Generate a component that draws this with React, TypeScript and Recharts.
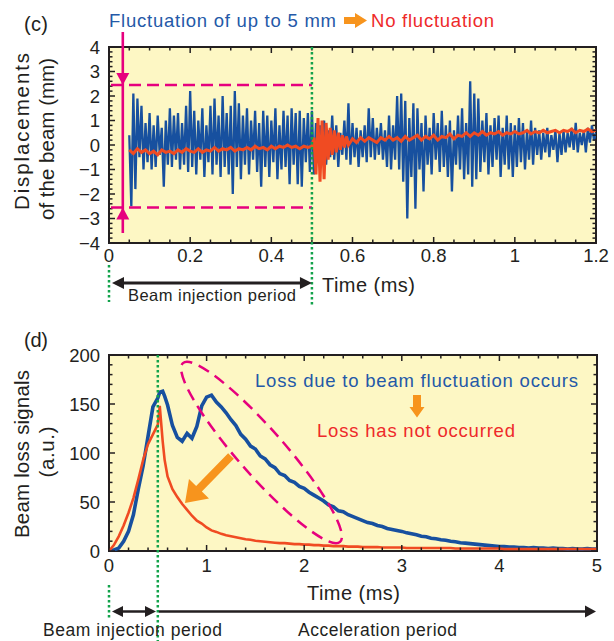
import React from 'react';
import { LineChart, Line, XAxis, YAxis, CartesianGrid, ReferenceArea } from 'recharts';

// ---------- colours & fonts ----------
const FONT = '"Liberation Sans", Arial, Helvetica, sans-serif';
const INK = '#231f20';
const BLUE = '#17509f';
const RED = '#f04b22';
const TEXT_BLUE = '#2459a8';
const TEXT_RED = '#ee2a2a';
const ORANGE = '#f7941d';
const MAGENTA = '#e6007e';
const GREEN = '#12a24b';
const PLOT_BG = '#fdf7c4';

// ---------- panel (c): beam displacement ----------
const topXMajor = [0, 0.2, 0.4, 0.6, 0.8, 1, 1.2];
const topYMajor = [-4, -3, -2, -1, 0, 1, 2, 3, 4];
const topXDomain = [0, 1.2];
const topYDomain = [-4, 4];

// blue: sampled from 0.05 ms every 0.005 ms
const blueTopStart = 0.05;
const blueTopStep = 0.005;
const blueTopValues = [
  0.4, -2.5, 2.1, -1.8, 1.9, -0.5, 1.6, -1.0, 0.9, -0.7,
  1.3, -1.0, 0.8, -0.9, 1.2, -0.4, 0.7, -1.7, 1.0, -0.8,
  1.5, -0.9, 1.2, -0.6, 1.3, -1.0, 0.9, -0.8, 1.6, -1.1,
  2.2, -0.9, 1.4, -1.2, 1.0, -0.6, 1.5, -1.3, 0.8, -0.7,
  1.6, -1.2, 1.9, -0.8, 1.2, -1.3, 2.0, -0.9, 1.3, -1.2,
  1.6, -2.0, 2.2, -0.9, 1.7, -1.4, 1.2, -0.8, 1.5, -1.2,
  1.0, -0.6, 1.4, -1.1, 0.9, -1.7, 1.4, -0.9, 1.2, -1.3,
  1.0, -0.7, 1.5, -1.4, 0.8, -1.0, 1.4, -0.9, 1.2, -1.6,
  1.5, -0.8, 1.3, -1.6, 1.4, -1.7, 1.1, -0.7, 1.3, -1.1,
  1.4, -1.2, 0.9, -0.5, 0.8, -0.7, 1.0, -0.8, 0.6, -0.5,
  1.2, -0.6, 0.8, -0.9, 0.5, -0.4, 1.0, -0.6, 1.7, -0.8,
  0.9, -0.5, 0.7, -0.9, 0.6, -0.5, 0.8, -0.7, 1.5, -0.5,
  1.1, -0.6, 0.7, -0.4, 0.9, -0.6, 0.6, -0.9, 1.2, -1.0,
  0.8, -0.6, 2.0, -1.0, 2.1, -1.5, 1.8, -3.0, 1.1, -1.3,
  1.7, -2.6, 1.5, -1.0, 0.9, -1.9, 1.2, -0.8, 0.7, -1.2,
  1.3, -0.6, 0.9, -1.1, 1.4, -0.9, 0.8, -1.3, 1.0, -1.9,
  0.6, -0.8, 1.2, -1.0, 1.5, -1.4, 0.9, -1.2, 2.6, -1.7,
  2.1, -1.4, 1.9, -1.1, 1.0, -0.7, 1.3, -1.2, 0.8, -0.9,
  1.1, -0.6, 1.2, -1.3, 0.7, -0.8, 1.2, -1.0, 0.9, -1.3,
  0.8, -0.9, 1.1, -0.7, 0.9, -1.0, 0.6, -0.6, 1.0, -0.8,
  0.7, -0.4, 0.6, -0.6, 0.5, -0.3, 0.7, -0.5, 0.4, -0.2,
  0.6, -0.7, 0.5, -0.4, 0.6, -0.3, 0.5, -0.1, 0.7, -0.2,
  0.9, -0.3, 0.5, 0.0, 0.6, -0.3, 0.7, 0.1, 0.8, 0.2,
  0.5,
];

const redTopTimes = [
  0.05, 0.06, 0.07, 0.08, 0.09, 0.1, 0.11, 0.12, 0.13, 0.14,
  0.15, 0.16, 0.17, 0.18, 0.19, 0.2, 0.21, 0.22, 0.23, 0.24,
  0.25, 0.26, 0.27, 0.28, 0.29, 0.3, 0.31, 0.32, 0.33, 0.34,
  0.35, 0.36, 0.37, 0.38, 0.39, 0.4, 0.41, 0.42, 0.43, 0.44,
  0.45, 0.46, 0.47, 0.48, 0.49, 0.5, 0.505, 0.51, 0.515, 0.52,
  0.525, 0.53, 0.535, 0.54, 0.545, 0.55, 0.555, 0.56, 0.565, 0.57,
  0.575, 0.58, 0.585, 0.59, 0.6, 0.61, 0.62, 0.63, 0.64, 0.65,
  0.66, 0.67, 0.68, 0.69, 0.7, 0.71, 0.72, 0.73, 0.74, 0.75,
  0.76, 0.77, 0.78, 0.79, 0.8, 0.81, 0.82, 0.83, 0.84, 0.85,
  0.86, 0.87, 0.88, 0.89, 0.9, 0.91, 0.92, 0.93, 0.94, 0.95,
  0.96, 0.97, 0.98, 0.99, 1.0, 1.01, 1.02, 1.03, 1.04, 1.05,
  1.06, 1.07, 1.08, 1.09, 1.1, 1.11, 1.12, 1.13, 1.14, 1.15,
  1.16, 1.17, 1.18, 1.19, 1.2,
];
const redTopValues = [
  -0.2, -0.35, -0.15, -0.3, -0.2, -0.35, -0.25, -0.4, -0.2, -0.3,
  -0.25, -0.35, -0.2, -0.3, -0.15, -0.25, -0.3, -0.15, -0.3, -0.2,
  -0.25, -0.1, -0.25, -0.15, -0.2, -0.1, -0.25, -0.15, -0.2, -0.1,
  -0.2, -0.05, -0.15, -0.1, -0.2, -0.05, -0.15, -0.05, -0.1, 0.0,
  -0.1, -0.05, -0.15, -0.05, -0.1, -0.05, 0.3, -1.2, 1.1, -1.5,
  1.0, -1.4, 0.9, -0.6, 0.7, -0.4, 0.6, -0.3, 0.5, -0.2,
  0.4, -0.1, 0.35, 0.0, 0.25, 0.1, 0.3, 0.15, 0.3, 0.2,
  0.1, 0.3, 0.2, 0.35, 0.2, 0.3, 0.15, 0.35, 0.2, 0.3,
  0.4, 0.2, 0.35, 0.25, 0.4, 0.2, 0.35, 0.3, 0.45, 0.25,
  0.4, 0.35, 0.5, 0.35, 0.5, 0.4, 0.55, 0.4, 0.5, 0.45,
  0.55, 0.4, 0.5, 0.45, 0.55, 0.45, 0.5, 0.6, 0.45, 0.55,
  0.5, 0.6, 0.5, 0.55, 0.6, 0.5, 0.6, 0.55, 0.65, 0.5,
  0.6, 0.55, 0.65, 0.55, 0.6,
];

// ---------- panel (d): beam loss signals ----------
const bottomXMajor = [0, 1, 2, 3, 4, 5];
const bottomYMajor = [0, 50, 100, 150, 200];
const bottomXDomain = [0, 5];
const bottomYDomain = [0, 200];

const lossTimes = [
  0, 0.05, 0.1, 0.15, 0.2, 0.25, 0.3, 0.35, 0.4, 0.45, 0.5, 0.52, 0.55, 0.57,
  0.6, 0.65, 0.7, 0.75, 0.8, 0.85, 0.9, 0.95, 1.0, 1.05,
  1.1, 1.15, 1.2, 1.25, 1.3, 1.35, 1.4, 1.45, 1.5, 1.55,
  1.6, 1.65, 1.7, 1.75, 1.8, 1.85, 1.9, 1.95, 2.0, 2.05,
  2.1, 2.15, 2.2, 2.25, 2.3, 2.35, 2.4, 2.45, 2.5, 2.55,
  2.6, 2.65, 2.7, 2.75, 2.8, 2.85, 2.9, 2.95, 3.0, 3.05,
  3.1, 3.15, 3.2, 3.25, 3.3, 3.35, 3.4, 3.45, 3.5, 3.55,
  3.6, 3.65, 3.7, 3.75, 3.8, 3.85, 3.9, 3.95, 4.0, 4.05,
  4.1, 4.15, 4.2, 4.25, 4.3, 4.35, 4.4, 4.45, 4.5, 4.55,
  4.6, 4.65, 4.7, 4.75, 4.8, 4.85, 4.9, 4.95, 5.0,
];
const lossBlue = [
  0, 1, 3, 10, 20, 37, 63, 87, 117, 147, 156, 162, 163, 158,
  149, 128, 116, 112, 120, 115, 127, 148, 157, 159,
  152, 147, 141, 134, 128, 119, 114, 107, 104, 97,
  94, 88, 85, 79, 77, 72, 70, 66, 64, 60,
  57, 54, 51, 47, 45, 41, 40, 37, 35, 33,
  31, 29, 28, 26, 25, 23, 22, 21, 20, 18.5,
  17.5, 16.5, 15, 14.5, 13, 12.5, 11.5, 11, 10, 9.5,
  8.5, 8, 7.5, 7, 6.5, 6, 5.5, 5, 4.5, 4.5,
  4, 4, 3.5, 3.5, 3, 3.5, 3, 3, 2.5, 3,
  2.5, 2.5, 2, 2.5, 2, 2, 2.5, 2, 2,
];
const lossRed = [
  0, 6, 15, 26, 39, 54, 73, 93, 109, 119, 129, 148, 112, 93,
  76, 63, 55, 48, 42, 36, 31, 28, 24, 21,
  19.5, 17.5, 16, 15, 14, 13, 12, 11.5, 10.5, 10,
  9.5, 9, 8.5, 8, 8, 7.5, 7, 7, 6.5, 6.5,
  6, 6, 5.5, 5.5, 5, 5, 5, 4.5, 4.5, 4.5,
  4, 4, 4, 4, 3.5, 3.5, 3.5, 3.5, 3.5, 3,
  3, 3, 3, 3, 3, 3, 3, 3, 3, 2.5,
  2.5, 2.5, 2.5, 2.5, 2.5, 2.5, 2.5, 2.5, 2.5, 2,
  2, 2, 2, 2, 2, 2, 2, 2, 2, 2,
  2, 2, 2, 2, 2, 2, 2, 2, 2,
];

// ---------- layout ----------
const W = 614;
const TOP = { h: 320, left: 109, right: 596, top: 47, bottom: 243 };
const BOT = { y0: 320, h: 321, left: 109, right: 597, top: 355, bottom: 551 };
const AXIS_W = 40;
const AXIS_H = 30;

const range = (start: number, end: number, step: number) => {
  const out: number[] = [];
  const n = Math.round((end - start) / step);
  for (let i = 0; i <= n; i++) out.push(Math.round((start + i * step) * 10000) / 10000);
  return out;
};

const topXTicks = range(0, 1.2, 0.05);
const topYTicks = range(-4, 4, 0.2);
const botXTicks = range(0, 5, 0.2);
const botYTicks = range(0, 200, 10);

const blueTopData = blueTopValues.map((v, i) => ({ t: Math.round((blueTopStart + i * blueTopStep) * 10000) / 10000, v }));
const redTopData = redTopTimes.map((t, i) => ({ t, v: redTopValues[i] }));
const lossData = lossTimes.map((t, i) => ({ t, blue: lossBlue[i], red: lossRed[i] }));

const fmt = (v: number) => (v < 0 ? '\u2212' + Math.abs(v) : String(v));
const isMajor = (majors: number[], v: number) => majors.some((m) => Math.abs(m - v) < 1e-6);

const makeXTick = (majors: number[], plotH: number, labelDy: number) => (p: any) => {
  const x = p.x;
  const y = p.y;
  const v = p.payload.value;
  const major = isMajor(majors, v);
  const len = major ? 6 : 3.5;
  return (
    <g>
      <line x1={x} x2={x} y1={y} y2={y - len} stroke={INK} strokeWidth={1.5} />
      <line x1={x} x2={x} y1={y - plotH} y2={y - plotH + len} stroke={INK} strokeWidth={1.5} />
      {major && (
        <text x={x} y={y + labelDy} textAnchor="middle" fontSize={18.5} fill={INK} fontFamily={FONT}>
          {fmt(v)}
        </text>
      )}
    </g>
  );
};

const makeYTick = (majors: number[], plotW: number) => (p: any) => {
  const x = p.x;
  const y = p.y;
  const v = p.payload.value;
  const major = isMajor(majors, v);
  const len = major ? 6 : 3.5;
  return (
    <g>
      <line x1={x} x2={x + len} y1={y} y2={y} stroke={INK} strokeWidth={1.5} />
      <line x1={x + plotW} x2={x + plotW - len} y1={y} y2={y} stroke={INK} strokeWidth={1.5} />
      {major && (
        <text x={x - 9} y={y + 6.5} textAnchor="end" fontSize={18.5} fill={INK} fontFamily={FONT}>
          {fmt(v)}
        </text>
      )}
    </g>
  );
};

// pixel helpers for the annotation overlay (same layout constants as charts)
const topX = (t: number) => TOP.left + ((t - topXDomain[0]) / (topXDomain[1] - topXDomain[0])) * (TOP.right - TOP.left);
const topY = (v: number) => TOP.top + ((topYDomain[1] - v) / (topYDomain[1] - topYDomain[0])) * (TOP.bottom - TOP.top);
const botX = (t: number) => BOT.left + ((t - bottomXDomain[0]) / (bottomXDomain[1] - bottomXDomain[0])) * (BOT.right - BOT.left);

const head = (tipX: number, tipY: number, dx: number, dy: number, len: number, half: number) => {
  const d = Math.hypot(dx, dy);
  const ux = dx / d;
  const uy = dy / d;
  const bx = tipX - ux * len;
  const by = tipY - uy * len;
  const px = -uy;
  const py = ux;
  return `${tipX},${tipY} ${bx + px * half},${by + py * half} ${bx - px * half},${by - py * half}`;
};

const blockArrow = (x0: number, y0: number, x1: number, y1: number, shaftHalf: number, headLen: number, headHalf: number) => {
  const d = Math.hypot(x1 - x0, y1 - y0);
  const ux = (x1 - x0) / d;
  const uy = (y1 - y0) / d;
  const px = -uy;
  const py = ux;
  const bx = x1 - ux * headLen;
  const by = y1 - uy * headLen;
  const pts = [
    [x0 + px * shaftHalf, y0 + py * shaftHalf],
    [bx + px * shaftHalf, by + py * shaftHalf],
    [bx + px * headHalf, by + py * headHalf],
    [x1, y1],
    [bx - px * headHalf, by - py * headHalf],
    [bx - px * shaftHalf, by - py * shaftHalf],
    [x0 - px * shaftHalf, y0 - py * shaftHalf],
  ];
  return pts.map((q) => `${q[0]},${q[1]}`).join(' ');
};

const Txt = (props: any) => {
  const { x, y, len, size, fill = INK, children } = props;
  return (
    <text x={x} y={y} fontSize={size} fill={fill} textLength={len} lengthAdjust="spacing">
      {children}
    </text>
  );
};

const VTxt = (props: any) => {
  const { cx, cy, len, size, children } = props;
  return (
    <text
      transform={`translate(${cx},${cy}) rotate(-90)`}
      x={0}
      y={0}
      textAnchor="middle"
      fontSize={size}
      fill={INK}
      textLength={len}
      lengthAdjust="spacing"
    >
      {children}
    </text>
  );
};

export default function App() {
  const topPlotH = TOP.bottom - TOP.top;
  const topPlotW = TOP.right - TOP.left;
  const botPlotH = BOT.bottom - BOT.top;
  const botPlotW = BOT.right - BOT.left;

  const x05Top = topX(0.5);
  const x05Bot = botX(0.5);
  const xMag = topX(0.034);
  const yHi = topY(2.45);
  const yLo = topY(-2.55);

  return (
    <div style={{ position: 'absolute', left: 0, top: 0, width: W, height: 641, background: '#fff', fontFamily: FONT }}>
      <div style={{ position: 'absolute', left: 0, top: 0 }}>
        <LineChart
          width={W}
          height={TOP.h}
          margin={{ top: TOP.top, right: W - TOP.right, left: TOP.left - AXIS_W, bottom: TOP.h - TOP.bottom - AXIS_H }}
        >
          <CartesianGrid fill={PLOT_BG} fillOpacity={1} horizontal={false} vertical={false} />
          <XAxis
            dataKey="t"
            type="number"
            domain={topXDomain}
            ticks={topXTicks}
            interval={0}
            height={AXIS_H}
            tickSize={0}
            tickMargin={0}
            axisLine={false}
            tickLine={false}
            allowDataOverflow
            tick={makeXTick(topXMajor, topPlotH, 19)}
          />
          <YAxis
            type="number"
            domain={topYDomain}
            ticks={topYTicks}
            interval={0}
            width={AXIS_W}
            tickSize={0}
            tickMargin={0}
            axisLine={false}
            tickLine={false}
            allowDataOverflow
            tick={makeYTick(topYMajor, topPlotW)}
          />
          <Line data={blueTopData} dataKey="v" stroke={BLUE} strokeWidth={2.3} dot={false} isAnimationActive={false} />
          <Line data={redTopData} dataKey="v" stroke={RED} strokeWidth={3} dot={false} isAnimationActive={false} />
          <ReferenceArea x1={0} x2={1.2} y1={-4} y2={4} fill="none" stroke={INK} strokeWidth={2} ifOverflow="visible" />
        </LineChart>
      </div>

      <div style={{ position: 'absolute', left: 0, top: BOT.y0 }}>
        <LineChart
          width={W}
          height={BOT.h}
          data={lossData}
          margin={{
            top: BOT.top - BOT.y0,
            right: W - BOT.right,
            left: BOT.left - AXIS_W,
            bottom: BOT.y0 + BOT.h - BOT.bottom - AXIS_H,
          }}
        >
          <CartesianGrid fill={PLOT_BG} fillOpacity={1} horizontal={false} vertical={false} />
          <XAxis
            dataKey="t"
            type="number"
            domain={bottomXDomain}
            ticks={botXTicks}
            interval={0}
            height={AXIS_H}
            tickSize={0}
            tickMargin={0}
            axisLine={false}
            tickLine={false}
            allowDataOverflow
            tick={makeXTick(bottomXMajor, botPlotH, 21)}
          />
          <YAxis
            type="number"
            domain={bottomYDomain}
            ticks={botYTicks}
            interval={0}
            width={AXIS_W}
            tickSize={0}
            tickMargin={0}
            axisLine={false}
            tickLine={false}
            allowDataOverflow
            tick={makeYTick(bottomYMajor, botPlotW)}
          />
          <Line dataKey="blue" stroke={BLUE} strokeWidth={3.6} dot={false} isAnimationActive={false} />
          <Line dataKey="red" stroke={RED} strokeWidth={2.6} dot={false} isAnimationActive={false} />
          <ReferenceArea x1={0} x2={5} y1={0} y2={200} fill="none" stroke={INK} strokeWidth={2} ifOverflow="visible" />
        </LineChart>
      </div>

      <svg
        width={W}
        height={641}
        style={{ position: 'absolute', left: 0, top: 0, pointerEvents: 'none' }}
        fontFamily={FONT}
      >
        {/* ---------- panel (c) annotations ---------- */}
        <Txt x={24} y={31} size={20} len={24}>(c)</Txt>
        <Txt x={109} y={27} size={18.5} len={227} fill={TEXT_BLUE}>Fluctuation of up to 5 mm</Txt>
        <polygon points={blockArrow(344, 20.5, 367, 20.5, 3.5, 12, 7.5)} fill={ORANGE} />
        <Txt x={371} y={27} size={18.5} len={123} fill={TEXT_RED}>No fluctuation</Txt>

        <VTxt cx={29} cy={131.5} size={20.5} len={157}>Displacements</VTxt>
        <VTxt cx={53.5} cy={139} size={20.5} len={162}>of the beam (mm)</VTxt>

        {/* dashed window */}
        <line x1={111} x2={x05Top} y1={yHi} y2={yHi} stroke={MAGENTA} strokeWidth={2.5} strokeDasharray="12 6" />
        <line x1={111} x2={x05Top} y1={yLo} y2={yLo} stroke={MAGENTA} strokeWidth={2.5} strokeDasharray="12 6" />
        {/* magenta arrows */}
        <line x1={xMag} x2={xMag} y1={32} y2={233} stroke={MAGENTA} strokeWidth={2.6} />
        <polygon points={head(xMag, yHi, 0, 1, 12, 6.5)} fill={MAGENTA} />
        <polygon points={head(xMag, yLo, 0, -1, 12, 6.5)} fill={MAGENTA} />

        {/* green dotted markers */}
        <line x1={x05Top} x2={x05Top} y1={TOP.top} y2={305} stroke={GREEN} strokeWidth={2.5} strokeDasharray="2.5 2.5" />
        <line x1={TOP.left} x2={TOP.left} y1={265} y2={302} stroke={GREEN} strokeWidth={2.5} strokeDasharray="2.5 2.5" />

        {/* injection period arrow */}
        <line x1={118} x2={306} y1={283} y2={283} stroke={INK} strokeWidth={3} />
        <polygon points={head(112, 283, -1, 0, 12, 6)} fill={INK} />
        <polygon points={head(x05Top, 283, 1, 0, 12, 6)} fill={INK} />
        <Txt x={128} y={301} size={16.5} len={168}>Beam injection period</Txt>
        <Txt x={322} y={292} size={20} len={93}>Time (ms)</Txt>

        {/* ---------- panel (d) annotations ---------- */}
        <Txt x={24} y={347} size={20} len={24}>(d)</Txt>
        <VTxt cx={29} cy={454} size={20.5} len={168}>Beam loss signals</VTxt>
        <VTxt cx={54} cy={452} size={20.5} len={51}>(a.u.)</VTxt>

        <ellipse
          cx={261.5}
          cy={452.5}
          rx={119}
          ry={23}
          transform="rotate(48.7 261.5 452.5)"
          fill="none"
          stroke={MAGENTA}
          strokeWidth={2.5}
          strokeDasharray="12 7"
        />
        <polygon points={blockArrow(231, 456, 185, 503, 4, 20, 14)} fill={ORANGE} />

        <Txt x={255} y={387} size={18.5} len={323} fill={TEXT_BLUE}>Loss due to beam fluctuation occurs</Txt>
        <polygon points={blockArrow(417, 395, 417, 417.5, 4, 10.5, 7.5)} fill={ORANGE} />
        <Txt x={317} y={437} size={18.5} len={198} fill={TEXT_RED}>Loss has not occurred</Txt>

        <line x1={x05Bot} x2={x05Bot} y1={BOT.top} y2={641} stroke={GREEN} strokeWidth={2.5} strokeDasharray="2.5 2.5" />
        <line x1={BOT.left} x2={BOT.left} y1={585} y2={618} stroke={GREEN} strokeWidth={2.5} strokeDasharray="2.5 2.5" />

        <line x1={118} x2={151} y1={611.5} y2={611.5} stroke={INK} strokeWidth={2.6} />
        <polygon points={head(112, 611.5, -1, 0, 11, 5.5)} fill={INK} />
        <polygon points={head(156, 611.5, 1, 0, 11, 5.5)} fill={INK} />
        <line x1={x05Bot + 1} x2={588} y1={611.5} y2={611.5} stroke={INK} strokeWidth={2.6} />
        <polygon points={head(596, 611.5, 1, 0, 11, 6)} fill={INK} />

        <Txt x={307} y={600} size={20} len={93}>Time (ms)</Txt>
        <Txt x={43} y={636} size={17.5} len={179}>Beam injection period</Txt>
        <Txt x={298} y={636} size={17.5} len={159}>Acceleration period</Txt>
      </svg>
    </div>
  );
}
